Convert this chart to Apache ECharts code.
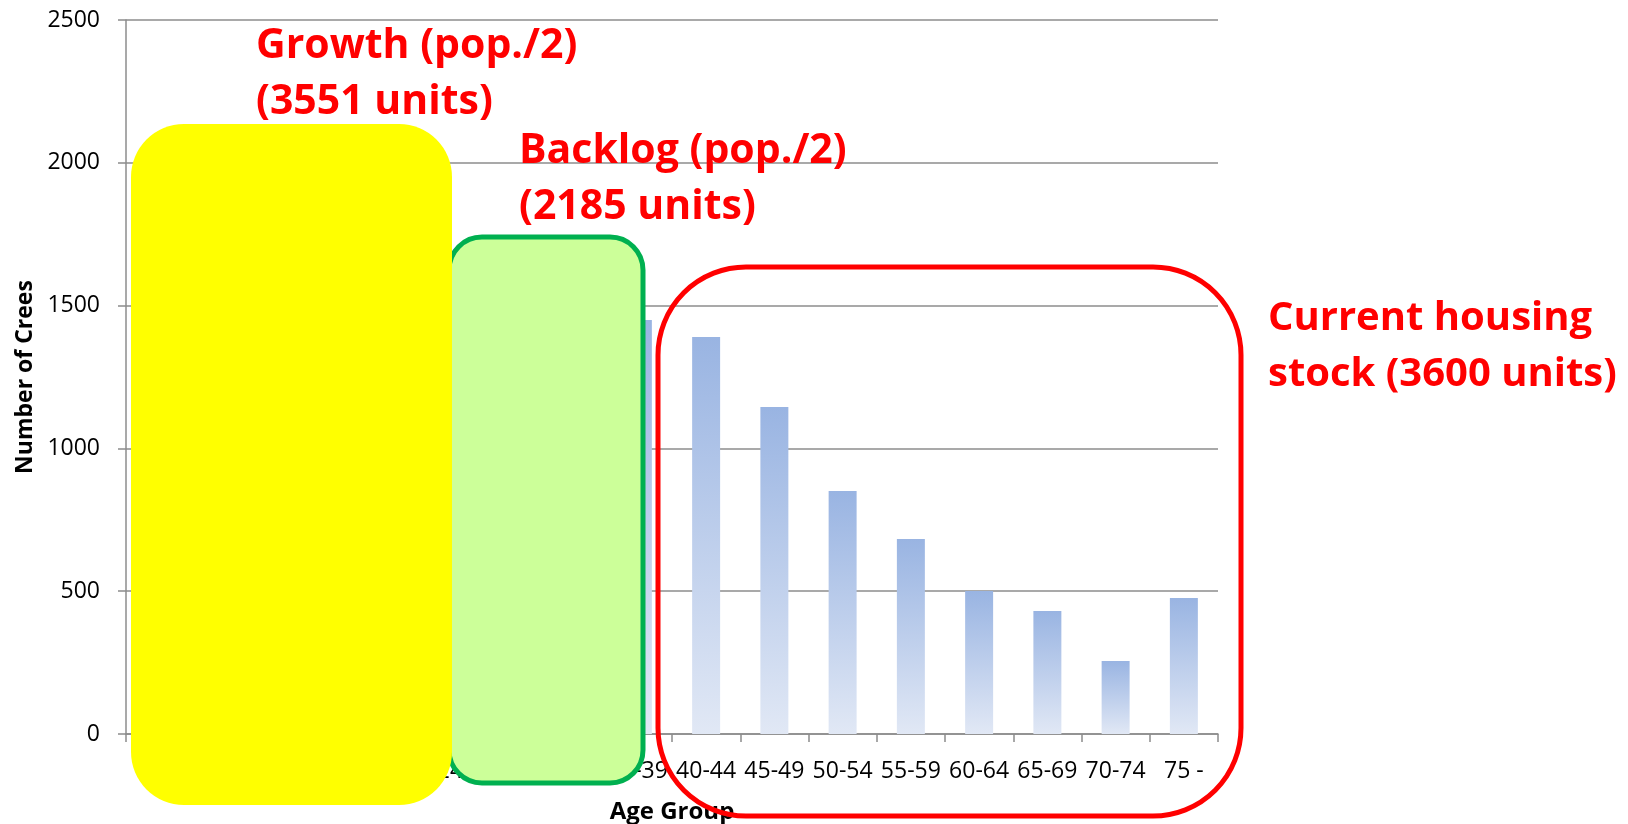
<!DOCTYPE html>
<html>
<head>
<meta charset="utf-8">
<title>Number of Crees by Age Group</title>
<script src="https://cdn.jsdelivr.net/npm/echarts@6/dist/echarts.min.js"></script>
<style>
  html, body { margin: 0; padding: 0; background: #ffffff; }
  #chart { width: 1628px; height: 824px; }
</style>
</head>
<body>
<div id="chart"></div>
<script>
// Age groups along the x axis
const categories = ['0-4', '5-9', '10-14', '15-19', '20-24', '25-29', '30-34', '35-39',
                    '40-44', '45-49', '50-54', '55-59', '60-64', '65-69', '70-74', '75 -'];

// Population per age group
const crees = [1840, 1790, 1760, 1712, 1530, 1450, 1390, 1450,
               1390, 1145, 851, 683, 501, 431, 256, 476];

// Value axis range and step
const yMin = 0;
const yMax = 2500;
const yStep = 500;

// Callout captions
const growthText = ['Growth (pop./2)', '(3551 units)'];
const backlogText = ['Backlog (pop./2)', '(2185 units)'];
const stockText = ['Current housing', 'stock (3600 units)'];

const FONT = "'Open Sans', 'Noto Sans', sans-serif";
const GRID_GREY = '#8c8c8c';
const CALLOUT_RED = '#ff0000';

const chart = echarts.init(document.getElementById('chart'), null, { renderer: 'canvas' });

function calloutStyle(x, y, lines, size) {
  return {
    x: x, y: y, text: lines.join('\n'),
    align: 'left', verticalAlign: 'top',
    fontFamily: FONT, fontWeight: 'bold', fontSize: size, lineHeight: 56,
    fill: CALLOUT_RED
  };
}

chart.setOption({
  animation: false,
  backgroundColor: '#ffffff',
  grid: { left: 126, right: 410, top: 20, bottom: 90, containLabel: false, outerBoundsMode: 'none' },
  xAxis: {
    type: 'category',
    data: categories,
    name: 'Age Group',
    nameLocation: 'middle',
    nameGap: 66,
    nameTextStyle: { fontFamily: FONT, fontWeight: 'bold', fontSize: 24, color: '#000' },
    axisLine: { show: true, lineStyle: { color: GRID_GREY, width: 1.5 } },
    axisTick: { show: true, alignWithLabel: false, length: 8, lineStyle: { color: GRID_GREY, width: 1.5 } },
    axisLabel: { interval: 0, margin: 26, fontFamily: FONT, fontSize: 23, color: '#000' },
    splitLine: { show: false }
  },
  yAxis: {
    type: 'value',
    min: yMin,
    max: yMax,
    interval: yStep,
    name: 'Number of Crees',
    nameLocation: 'middle',
    nameGap: 84,
    nameTextStyle: { fontFamily: FONT, fontWeight: 'bold', fontSize: 23, color: '#000' },
    axisLine: { show: true, lineStyle: { color: GRID_GREY, width: 1.5 } },
    axisTick: { show: true, inside: false, length: 8, lineStyle: { color: GRID_GREY, width: 1.5 } },
    axisLabel: { margin: 26, fontFamily: FONT, fontSize: 23, color: '#000', formatter: v => String(v) },
    splitLine: { show: true, lineStyle: { color: GRID_GREY, width: 1.5 } }
  },
  series: [{
    type: 'bar',
    data: crees,
    barWidth: '41%',
    itemStyle: {
      color: new echarts.graphic.LinearGradient(0, 0, 0, 1, [
        { offset: 0, color: '#99b4e2' },
        { offset: 1, color: '#e1e8f5' }
      ])
    },
    z: 2
  }],
  graphic: [
    // Backlog callout box
    { type: 'rect', z: 50, shape: { x: 449, y: 237, width: 194, height: 546, r: 33 },
      style: { fill: '#ccff99', stroke: '#00b050', lineWidth: 5 } },
    // Growth callout box
    { type: 'rect', z: 51, shape: { x: 131, y: 124, width: 321, height: 681, r: 53 },
      style: { fill: '#ffff00', stroke: null } },
    // Current housing stock outline
    { type: 'rect', z: 52, shape: { x: 658, y: 267, width: 583, height: 549, r: 88 },
      style: { fill: null, stroke: CALLOUT_RED, lineWidth: 5 } },
    // Captions
    { type: 'text', z: 53, style: calloutStyle(256, 18, growthText, 41) },
    { type: 'text', z: 53, style: calloutStyle(519, 123, backlogText, 41) },
    { type: 'text', z: 53, style: calloutStyle(1268, 291, stockText, 40) }
  ]
});
</script>
</body>
</html>
